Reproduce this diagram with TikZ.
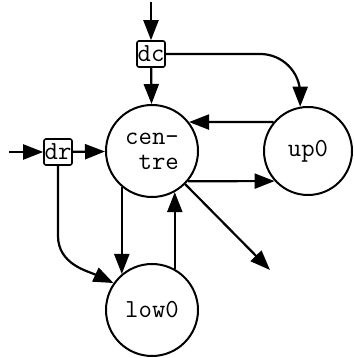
\documentclass[tikz,border=0pt]{standalone}
\usepackage{tikz}
\usetikzlibrary{arrows.meta}

\tikzset{
    state/.style={draw, circle, line width=2pt, minimum size=92pt, inner sep=0pt, font=\ttfamily\fontsize{26}{25}\selectfont},
    gate/.style={draw, line width=1.6pt, rounded corners=2pt, minimum width=28pt, minimum height=26pt, inner sep=0.5pt, font=\ttfamily\fontsize{26}{25}\selectfont},
    flow/.style={line width=2.2pt, -{Triangle[length=20pt,width=15pt]}}
}

\begin{document}
\begin{tikzpicture}[x=1pt, y=1pt]
    \useasboundingbox (0,0) rectangle (353,358);
    % states
    \node[state, align=right] (centre) at (152,207) {cen-\\tre};
    \node[state, minimum size=88pt] (upzero) at (308,207) {up0};
    \node[state] (lowzero) at (152,48) {low0};
    % gates
    \node[gate] (dc) at (151,304) {dc};
    \node[gate] (dr) at (58,206) {dr};
    % free ends
    \coordinate (topin) at (151,356);
    \coordinate (leftin) at (9,206);
    \coordinate (outlet) at (270,88);
    % connectors
    \draw[flow] (topin) -- (dc);
    \draw[flow] (dc) -- (centre);
    \draw[flow, rounded corners=40pt] (dc.east) -| (upzero.100);
    \draw[flow] (leftin) -- (dr);
    \draw[flow] (dr) -- (centre);
    \draw[flow] (dr.south) -- ++(0,-70) to[out=-90, in=155] (lowzero.145);
    \draw[flow] (upzero.140) -- (centre.38);
    \draw[flow] (centre.-40) -- (upzero.222);
    \draw[flow] (centre.-130) -- (lowzero.130);
    \draw[flow] (lowzero.61) -- (centre.-61);
    \draw[flow] (centre.-45) -- (outlet);
\end{tikzpicture}
\end{document}
